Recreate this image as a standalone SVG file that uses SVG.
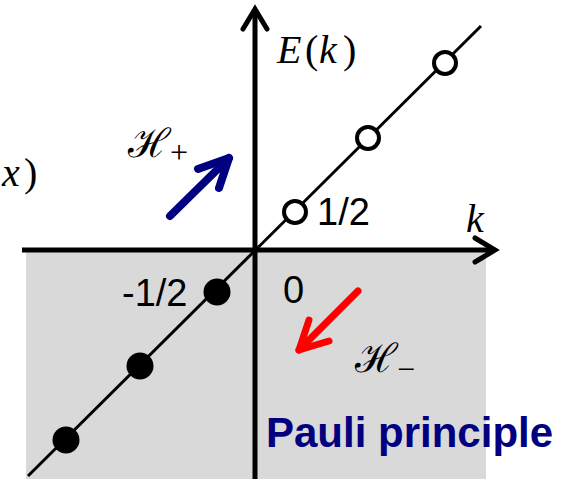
<svg xmlns="http://www.w3.org/2000/svg" width="570" height="479" viewBox="0 0 570 479">
<style>
.axis{stroke:#000;stroke-width:5;fill:none;stroke-linecap:butt}
.head{stroke:#000;stroke-width:5;fill:none;stroke-linecap:round;stroke-linejoin:miter}
.line{stroke:#000;stroke-width:3;fill:none}
.open{fill:#fff;stroke:#000;stroke-width:4}
.full{fill:#000}
.num{font-family:"Liberation Sans",Arial,sans-serif;font-size:38px;fill:#000}
.math{font-family:"Liberation Serif","Times New Roman",serif;font-size:40px;fill:#000}
.cal{font-family:"DejaVu Serif",serif;font-size:40px;fill:#000}
.sub{font-family:"Liberation Serif",serif;font-size:32px;fill:#000}
</style>
<rect id="filled-region" x="26" y="252" width="460" height="227" fill="#d9d9d9"/>
<g id="axes">
  <line class="axis" x1="22" y1="250" x2="495" y2="250"/>
  <polyline class="head" points="475,238 495,250 475,262"/>
  <line class="axis" x1="255" y1="479" x2="255" y2="9"/>
  <polyline class="head" points="243,29 255,9 267,29"/>
</g>
<g id="connectors">
  <line class="line" x1="28" y1="476" x2="481" y2="26"/>
  <g id="blue-arrow" stroke="#000080" stroke-width="8" fill="none" stroke-linecap="round">
    <line x1="170" y1="216" x2="229" y2="158"/>
    <polyline points="198,169 229,158 219,188" stroke-linejoin="round"/>
  </g>
  <g id="red-arrow" stroke="#ff0000" stroke-width="7" fill="none" stroke-linecap="round">
    <line x1="358" y1="291" x2="299" y2="350"/>
    <polyline points="309,320 299,350 329,341" stroke-linejoin="round"/>
  </g>
</g>
<g id="empty-states">
  <circle class="open" cx="295" cy="212" r="11"/>
  <circle class="open" cx="368" cy="138" r="11"/>
  <circle class="open" cx="445" cy="63" r="11"/>
</g>
<g id="filled-states">
  <circle class="full" cx="217" cy="292" r="13.5"/>
  <circle class="full" cx="140" cy="366" r="13.5"/>
  <circle class="full" cx="66" cy="440" r="13.5"/>
</g>
<g id="labels">
  <text class="math" y="63"><tspan x="277" font-style="italic">E</tspan><tspan x="305">(</tspan><tspan x="319" font-style="italic">k</tspan><tspan x="343">)</tspan></text>
  <text class="math" x="466" y="232" font-style="italic">k</text>
  <text class="math" y="186" font-size="38"><tspan x="2" font-style="italic">x</tspan><tspan x="24">)</tspan></text>
  <text class="num" x="317" y="225">1/2</text>
  <text class="num" x="122" y="306">-1/2</text>
  <text class="num" x="283" y="303">0</text>
  <text class="cal" x="128" y="157">ℋ</text>
  <text class="sub" x="170" y="163">+</text>
  <text class="cal" x="355" y="372">ℋ</text>
  <text class="sub" x="397" y="380">−</text>
  <text x="266" y="447" font-family="'Liberation Sans',Arial,sans-serif" font-weight="bold" font-size="42" fill="#000080">Pauli principle</text>
</g>
</svg>
